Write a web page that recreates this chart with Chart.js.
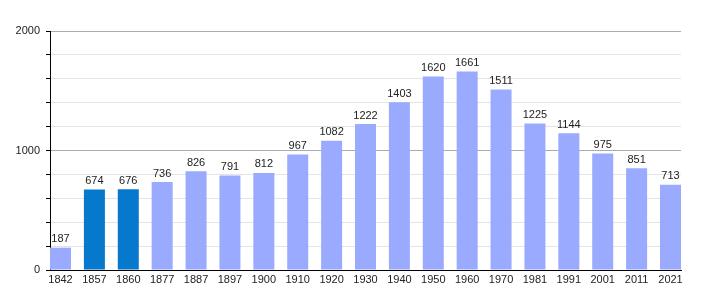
<!DOCTYPE html>
<html>
<head>
<meta charset="utf-8">
<script src="https://cdn.jsdelivr.net/npm/chart.js@4"></script>
<style>
  html, body { margin: 0; padding: 0; background: #fff; }
  #wrap { width: 710px; height: 300px; }
</style>
</head>
<body>
<div id="wrap"><canvas id="c" width="710" height="300"></canvas></div>
<script>
const years = ['1842','1857','1860','1877','1887','1897','1900','1910','1920','1930','1940','1950','1960','1970','1981','1991','2001','2011','2021'];
const population = [187,674,676,736,826,791,812,967,1082,1222,1403,1620,1661,1511,1225,1144,975,851,713];
const highlightYears = ['1857','1860'];
const yMajorTicks = [0, 1000, 2000];

const LIGHT = '#9aabff';
const DARK = '#0679cc';
const FONT = '"Liberation Sans", Arial, sans-serif';

const valueLabels = {
  id: 'valueLabels',
  afterDatasetsDraw(chart) {
    const ctx = chart.ctx;
    const meta = chart.getDatasetMeta(0);
    ctx.save();
    ctx.font = '11px ' + FONT;
    ctx.fillStyle = '#222';
    ctx.textAlign = 'center';
    ctx.textBaseline = 'bottom';
    meta.data.forEach((bar, i) => {
      ctx.fillText(String(population[i]), bar.x, bar.y - 3);
    });
    ctx.restore();
  }
};

new Chart(document.getElementById('c'), {
  type: 'bar',
  data: {
    datasets: [{
      data: population.map((v, i) => ({ x: i, y: v })),
      backgroundColor: (c) => highlightYears.includes(years[c.dataIndex]) ? DARK : LIGHT,
      borderWidth: 0,
      categoryPercentage: 1,
      barPercentage: 0.62
    }]
  },
  options: {
    responsive: false,
    animation: false,
    events: [],
    layout: { padding: { top: 31, right: 29, left: 0, bottom: 0 } },
    plugins: { legend: { display: false }, tooltip: { enabled: false } },
    scales: {
      x: {
        type: 'linear',
        offset: false,
        min: -0.31,
        max: 18.31,
        afterBuildTicks: (s) => { s.ticks = years.map((_, i) => ({ value: i })); },
        afterFit: (s) => { s.height = 30; },
        grid: { display: false, drawTicks: false, offset: false },
        border: { display: true, color: '#000', width: 1 },
        ticks: {
          autoSkip: false,
          maxRotation: 0,
          padding: 3,
          color: '#222',
          font: { family: FONT, size: 11 },
          callback: (v) => years[v]
        }
      },
      y: {
        min: 0,
        max: 2000,
        afterFit: (s) => { s.width = 50; },
        border: { display: true, color: '#000', width: 1 },
        grid: {
          color: (c) => (c.tick && yMajorTicks.includes(c.tick.value)) ? '#ababab' : '#e4e4e4',
          tickColor: '#000',
          tickLength: 4,
          lineWidth: 1
        },
        ticks: {
          stepSize: 200,
          padding: 6,
          color: '#222',
          font: { family: FONT, size: 11 },
          callback: (v) => yMajorTicks.includes(v) ? String(v) : ''
        }
      }
    }
  },
  plugins: [valueLabels]
});
</script>
</body>
</html>
